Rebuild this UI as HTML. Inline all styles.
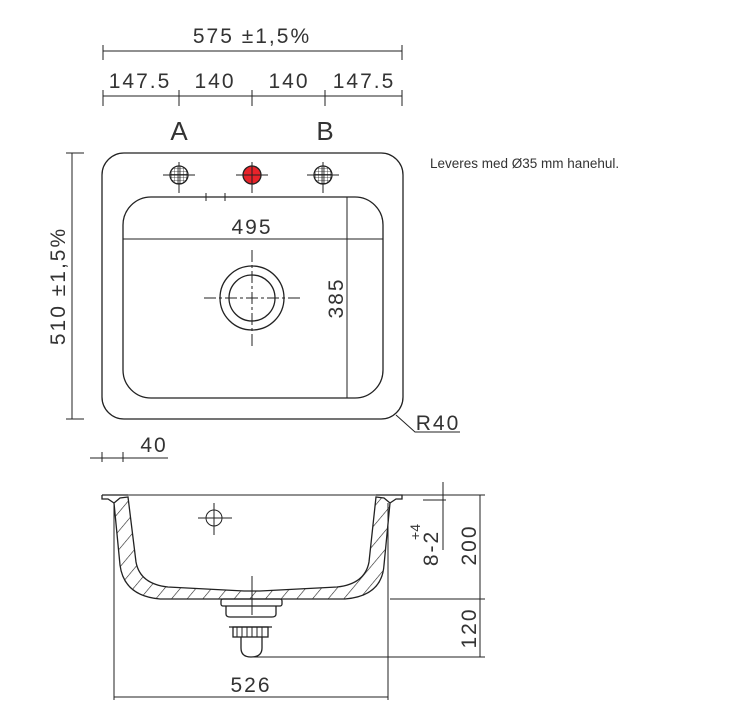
<!DOCTYPE html>
<html><head><meta charset="utf-8"><style>
html,body{margin:0;padding:0;background:#fff;}
svg{display:block;}
text{font-family:"Liberation Sans",sans-serif;fill:#333;}
.d{font-size:21px;letter-spacing:2px;}
</style></head><body>
<svg width="734" height="716" viewBox="0 0 734 716" xmlns="http://www.w3.org/2000/svg">
<defs>
<pattern id="h" width="12" height="12" patternUnits="userSpaceOnUse" patternTransform="rotate(40)">
<line x1="0" y1="0" x2="0" y2="12" stroke="#222" stroke-width="1.2"/>
</pattern>
<pattern id="g" width="3" height="3" patternUnits="userSpaceOnUse">
<path d="M0 0H3M0 0V3" stroke="#222" stroke-width="0.8" fill="none"/>
</pattern>
</defs>
<g stroke="#222" stroke-width="1" fill="none">
<line x1="103" y1="51" x2="402" y2="51"/>
<line x1="103" y1="45" x2="103" y2="60"/><line x1="402" y1="45" x2="402" y2="60"/>
<line x1="103" y1="96" x2="402" y2="96"/>
<line x1="103" y1="90" x2="103" y2="106"/><line x1="179" y1="90" x2="179" y2="106"/>
<line x1="252" y1="90" x2="252" y2="106"/><line x1="325" y1="90" x2="325" y2="106"/>
<line x1="402" y1="90" x2="402" y2="106"/>
<line x1="72" y1="153" x2="72" y2="419"/>
<line x1="66" y1="153" x2="84" y2="153"/><line x1="66" y1="419" x2="84" y2="419"/>
<line x1="90" y1="458" x2="168" y2="458"/>
<line x1="102" y1="452" x2="102" y2="462"/><line x1="123" y1="452" x2="123" y2="462"/>
<rect x="102" y="153" width="301" height="266" rx="22" stroke-width="1.3"/>
<rect x="123" y="197" width="260" height="201" rx="28" stroke-width="1.3"/>
<line x1="206" y1="193" x2="206" y2="201"/><line x1="225" y1="193" x2="225" y2="201"/>
<line x1="123" y1="239" x2="383" y2="239"/>
<line x1="347" y1="197" x2="347" y2="398"/>
<circle cx="179" cy="175" r="9" fill="url(#g)" stroke-width="1.3"/>
<circle cx="323" cy="175" r="9" fill="url(#g)" stroke-width="1.3"/>
<circle cx="252" cy="175" r="9" fill="#e8232a" stroke-width="1.3"/>
<path d="M163 175H195M179 162V193M236 175H268M252 162V193M307 175H339M323 162V193"/>
<circle cx="252" cy="298" r="32" stroke-width="1.3"/>
<circle cx="252" cy="298" r="23" stroke-width="1.3"/>
<path d="M204 298H300M252 250V346" stroke-dasharray="12 3 3 3"/>
<path d="M396 415L415 432H460"/>
<path d="M114 503L120 565Q124 596 160 599L345 599Q382 596 384 565L390 503L384 498L376 497L369 562Q365 584 337 587L260 591L244 591L168 587Q140 584 136 562L128 497L120 498Z" fill="url(#h)" stroke-width="1.3"/>
<path d="M102 495H128M102 495V499H108L114 503M376 495H402V499H396L390 503" stroke-width="1.3"/>
<line x1="128" y1="495" x2="376" y2="495"/>
<circle cx="214" cy="518" r="8"/>
<path d="M198 518H232M214 503V535"/>
<line x1="252" y1="576" x2="252" y2="615"/>
<rect x="221" y="599" width="61" height="7" rx="2" stroke-width="1.3"/>
<path d="M226 606V614Q226 617 230 617H272Q276 617 276 614V606" stroke-width="1.3"/>
<rect x="233" y="627" width="35" height="10" stroke-width="1.3"/>
<path d="M237 627V637M242 627V637M247 627V637M252 627V637M257 627V637M262 627V637"/>
<path d="M229 627H272M241 637V648Q241 657 251 657Q262 657 262 648V637" stroke-width="1.3"/>
<path d="M402 495H485M390 599H485M252 657H485"/>
<line x1="480" y1="495" x2="480" y2="657"/>
<line x1="443" y1="482" x2="443" y2="550"/>
<line x1="423" y1="500" x2="446" y2="500"/>
<line x1="114" y1="503" x2="114" y2="700"/><line x1="388" y1="503" x2="388" y2="700"/>
<line x1="114" y1="697" x2="388" y2="697"/>
</g>
<text class="d" x="252" y="43" text-anchor="middle">575 ±1,5%</text>
<text class="d" x="140" y="88" text-anchor="middle">147.5</text>
<text class="d" x="215" y="88" text-anchor="middle">140</text>
<text class="d" x="289" y="88" text-anchor="middle">140</text>
<text class="d" x="364" y="88" text-anchor="middle">147.5</text>
<text x="179" y="140" text-anchor="middle" font-size="26">A</text>
<text x="325" y="140" text-anchor="middle" font-size="26">B</text>
<text class="d" x="252" y="234" text-anchor="middle">495</text>
<text class="d" transform="translate(343,298) rotate(-90)" text-anchor="middle">385</text>
<text class="d" transform="translate(65,286) rotate(-90)" text-anchor="middle">510 ±1,5%</text>
<text class="d" x="154" y="452" text-anchor="middle">40</text>
<text class="d" x="438" y="430" text-anchor="middle">R40</text>
<text x="430" y="168" font-size="13.5">Leveres med Ø35 mm hanehul.</text>
<text class="d" transform="translate(476,545) rotate(-90)" text-anchor="middle">200</text>
<text class="d" transform="translate(476,628) rotate(-90)" text-anchor="middle">120</text>
<text class="d" transform="translate(438,548) rotate(-90)" text-anchor="middle">8-2</text>
<text font-size="14" transform="translate(420,532) rotate(-90)" text-anchor="middle">+4</text>
<text class="d" x="251" y="692" text-anchor="middle">526</text>
</svg>
</body></html>
